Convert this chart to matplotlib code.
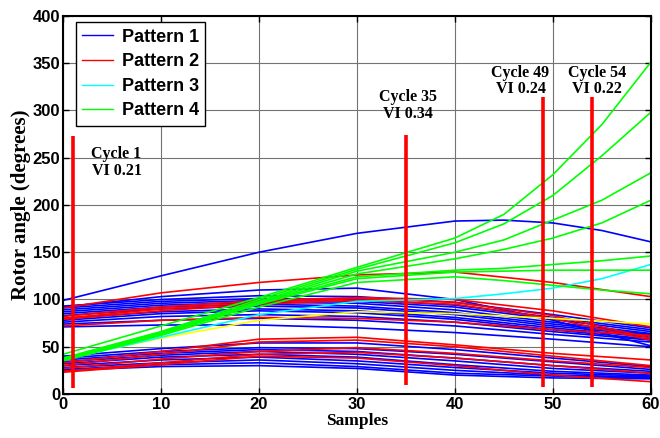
import matplotlib
matplotlib.use("Agg")
import matplotlib.pyplot as plt

# sample grids (x axis)
samples = [0, 10, 20, 30, 40, 50, 60]
samples_fine = [0, 10, 20, 30, 40, 45, 50, 55, 60]

# Pattern 1 (blue) - rotor angle trajectories on `samples`
pattern1 = [
    [93, 100, 104, 103, 97, 84, 70],
    [91, 98, 101, 100, 94, 81, 68],
    [89, 96, 99, 98, 92, 79, 66],
    [87, 94, 97, 96, 89, 76, 64],
    [85, 92, 95, 93, 86, 74, 63],
    [83, 90, 93, 91, 84, 72, 62],
    [80, 87, 90, 88, 81, 70, 60],
    [78, 85, 88, 86, 79, 68, 58],
    [76, 82, 84, 82, 76, 66, 57],
    [74, 78, 80, 78, 72, 63, 55],
    [71, 73, 73, 70, 65, 58, 50],
    [92, 103, 110, 112, 100, 78, 51],
    [40, 48, 54, 54, 47, 38, 29],
    [38, 45, 49, 48, 42, 34, 26],
    [36, 43, 47, 45, 38, 30, 24],
    [34, 41, 45, 42, 35, 27, 22],
    [32, 39, 42, 39, 31, 24, 20],
    [30, 36, 39, 35, 28, 22, 19],
    [28, 33, 36, 32, 25, 20, 18],
    [26, 31, 33, 29, 22, 19, 17],
    [25, 29, 30, 27, 20, 17, 16],
]
# the single large-swing blue trajectory (on `samples_fine`)
pattern1_top = [99, 125, 150, 170, 183, 184, 181, 173, 161]

# Pattern 2 (red) on `samples`
pattern2 = [
    [91, 107, 118, 126, 129, 118, 103],
    [82, 92, 99, 102, 100, 88, 71],
    [80, 90, 97, 101, 97, 83, 59],
    [79, 88, 95, 99, 95, 80, 57],
    [72, 78, 81, 80, 76, 68, 62],
    [33, 45, 58, 60, 52, 43, 36],
    [30, 42, 55, 57, 50, 40, 30],
    [27, 37, 45, 49, 43, 35, 28],
    [24, 33, 42, 44, 38, 30, 22],
    [23, 31, 40, 38, 30, 20, 13],
]

# Pattern 3 (cyan) on `samples_fine`
pattern3 = [
    [36, 60, 84, 98, 101, 106, 112, 122, 137],
]

# Pattern 4 (green) on `samples_fine`
pattern4 = [
    [42, 72, 102, 134, 165, 190, 232, 285, 351],
    [38, 66, 100, 132, 160, 180, 210, 252, 298],
    [37, 65, 98, 130, 150, 163, 184, 205, 234],
    [37, 64, 97, 127, 143, 153, 165, 181, 205],
    [36, 63, 96, 124, 131, 133, 137, 141, 146],
    [36, 63, 95, 122, 129, 130, 131, 131, 131],
    [35, 62, 92, 118, 124, 120, 115, 110, 106],
]

# unlabelled yellow trajectory on `samples`
other = [37, 59, 78, 87, 85, 80, 74]

# marked cycles
cycles = [1, 35, 49, 54]
vi_values = [0.21, 0.34, 0.24, 0.22]
marker_bottom = [6, 9, 7, 7]
marker_top = [273, 274, 314, 314]
label_x = [2.9, 35.2, 46.7, 54.5]
label_y = [245, 305, 331, 331]
label_ha = ["left", "center", "center", "center"]

serif_bold = {"family": "Liberation Serif", "weight": "bold"}

fig = plt.figure(figsize=(6.6, 4.38), dpi=100)
ax = fig.add_axes([0.0955, 0.1005, 0.8905, 0.863])

ax.grid(True, color="0.45", lw=0.8)
ax.set_axisbelow(True)

lw = 1.2
for ys in pattern1:
    h1, = ax.plot(samples, ys, color="#0000ff", lw=lw)
ax.plot(samples_fine, pattern1_top, color="#0000ff", lw=lw)
for ys in pattern2:
    h2, = ax.plot(samples, ys, color="#ff0000", lw=lw)
ax.plot(samples, other, color="#ffff00", lw=lw)
for ys in pattern3:
    h3, = ax.plot(samples_fine, ys, color="#00ffff", lw=lw)
for ys in pattern4:
    h4, = ax.plot(samples_fine, ys, color="#00ff00", lw=lw)

# vertical markers + annotations
for c, v, b, t, tx, ty, ha in zip(cycles, vi_values, marker_bottom, marker_top,
                                   label_x, label_y, label_ha):
    ax.plot([c, c], [b, t], color="#ff0000", lw=2.6, solid_capstyle="butt",
            zorder=5)
    ax.text(tx, ty, "Cycle %d\nVI %.2f" % (c, v), ha=ha, va="center",
            multialignment="center", fontsize=11.5, linespacing=1.05,
            zorder=6, **serif_bold)

ax.set_xlim(0, 60)
ax.set_ylim(0, 400)
ax.set_xticks(range(0, 61, 10))
ax.set_yticks(range(0, 401, 50))
ax.tick_params(direction="in", length=4, width=1, top=True, right=True, pad=2)
for lab in ax.get_xticklabels() + ax.get_yticklabels():
    lab.set_fontfamily("Liberation Sans")
    lab.set_fontweight("bold")
    lab.set_fontsize(12)
for sp in ax.spines.values():
    sp.set_linewidth(1.5)

ax.set_xlabel("Samples", fontsize=12.5, labelpad=1, **serif_bold)
ax.set_ylabel("Rotor angle (degrees)", fontsize=15, labelpad=1, **serif_bold)

leg = ax.legend([h1, h2, h3, h4],
                ["Pattern 1", "Pattern 2", "Pattern 3", "Pattern 4"],
                loc="upper left", bbox_to_anchor=(0.022, 0.983),
                prop={"family": "Liberation Sans", "weight": "bold",
                      "size": 13},
                fancybox=False, framealpha=1, edgecolor="black",
                handlelength=1.7, handletextpad=0.5, labelspacing=0.42,
                borderpad=0.35, borderaxespad=0)
leg.get_frame().set_linewidth(1.0)
for line in leg.get_lines():
    line.set_linewidth(1.0)

fig.savefig("out.png", dpi=100)
